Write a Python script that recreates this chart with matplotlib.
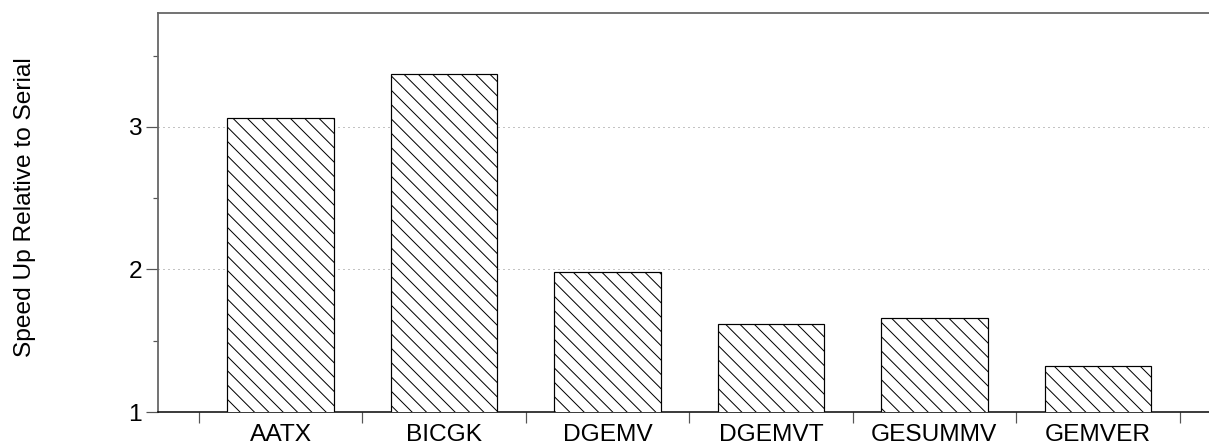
import matplotlib
matplotlib.use("Agg")
import matplotlib.pyplot as plt
import numpy as np

kernels = ["AATX", "BICGK", "DGEMV", "DGEMVT", "GESUMMV", "GEMVER"]
speedup = [3.06, 3.37, 1.98, 1.62, 1.66, 1.32]

DPI = 86
W, H = 1209, 447


def pt(px):
    return px * 72.0 / DPI


plt.rcParams['font.family'] = ['Liberation Sans', 'DejaVu Sans']
plt.rcParams['hatch.linewidth'] = pt(1.0)

fig = plt.figure(figsize=(W / DPI, H / DPI), dpi=DPI)
ax = fig.add_axes([158 / W, 35 / H, (W - 158) / W, 399 / H])

x = np.arange(len(kernels))
ax.bar(x, speedup, width=0.65, bottom=0, color='white', edgecolor='black',
       linewidth=pt(1.2), hatch='\\\\', zorder=3)

ax.set_xlim(-0.75, 5.68)
ax.set_ylim(1, 3.8)

fs = pt(24.5)
ax.set_yticks([1, 2, 3])
ax.set_yticks([1.5, 2.5, 3.5], minor=True)
ax.set_yticklabels(['1', '2', '3'], fontsize=fs)
ax.tick_params(axis='y', which='major', direction='out', length=pt(12),
               width=pt(1.2), color='#555555', pad=pt(4))
ax.tick_params(axis='y', which='minor', direction='out', length=pt(5),
               width=pt(1.2), color='#555555')

ax.set_xticks(np.arange(-0.5, 6, 1.0))
ax.set_xticklabels([])
ax.set_xticks(x, minor=True)
ax.set_xticklabels(kernels, minor=True, fontsize=fs)
ax.tick_params(axis='x', which='major', direction='out', length=pt(11),
               width=pt(1.2), color='#555555')
ax.tick_params(axis='x', which='minor', length=0, pad=pt(12))

ax.yaxis.grid(True, which='major', linestyle=(0, (1, 4)), color='#888888',
              linewidth=pt(1.0), zorder=0)
ax.set_axisbelow(True)

ax.spines['right'].set_visible(False)
ax.spines['left'].set_color('#666666')
ax.spines['top'].set_color('#666666')
ax.spines['left'].set_linewidth(pt(1.8))
ax.spines['top'].set_linewidth(pt(1.8))
ax.spines['bottom'].set_color('black')
ax.spines['bottom'].set_linewidth(pt(1.5))

fig.text(25 / W, 1 - 207 / H, 'Speed Up Relative to Serial', rotation=90,
         ha='center', va='center', fontsize=fs)

fig.savefig('out.png', dpi=DPI, facecolor='white')
